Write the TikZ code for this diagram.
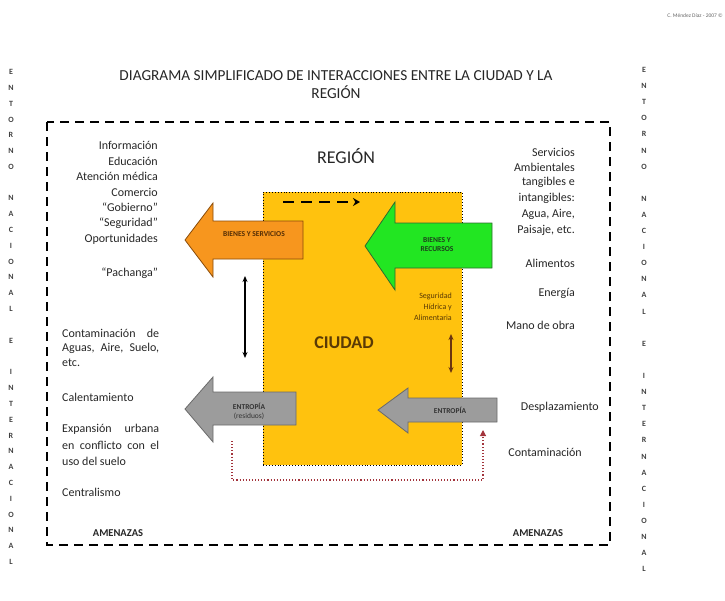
\documentclass[tikz,border=0pt]{standalone}
\usepackage{fontspec}
\setmainfont{Carlito}
\usetikzlibrary{arrows.meta}
\definecolor{cityyellow}{HTML}{FFC20E}
\definecolor{orangearr}{HTML}{F7961E}
\definecolor{orangeline}{HTML}{8A4B08}
\definecolor{greenarr}{HTML}{22E622}
\definecolor{greenline}{HTML}{2F6B2F}
\definecolor{grayarr}{HTML}{9C9C9C}
\definecolor{grayline}{HTML}{6A6A6A}
\definecolor{dotred}{HTML}{A3343C}
\definecolor{brownarr}{HTML}{6B3510}
\definecolor{citytext}{HTML}{5A3A05}
\begin{document}
\begin{tikzpicture}[x=1pt,y=-1pt,
  txt/.style={font=\fontsize{12}{14}\selectfont, inner sep=0pt, text=black!85},
  vlet/.style={font=\fontsize{8}{9}\selectfont\bfseries, inner sep=0pt, text=black!75},
  arrlbl/.style={font=\fontsize{7.5}{9}\selectfont\bfseries, inner sep=0pt, align=center},
  blockarrow/.style={line width=0.8pt},
  dashbox/.style={line width=1.8pt, dash pattern=on 9pt off 6pt},
  dbl/.style={{Stealth[length=6pt,width=5pt]}-{Stealth[length=6pt,width=5pt]}, line width=1.3pt},
]
\useasboundingbox (0,0) rectangle (725,600);

% credit
\node[anchor=east, inner sep=0pt, font=\fontsize{5.5}{6}\selectfont, text=black!60] (credit) at (723,16) {C. Méndez Díaz - 2007 ©};

% title
\node[inner sep=0pt, font=\fontsize{15.3}{17}\selectfont, text=black!85] (title1) at (336,76) {DIAGRAMA SIMPLIFICADO DE INTERACCIONES ENTRE LA CIUDAD Y LA};
\node[inner sep=0pt, font=\fontsize{15.3}{17}\selectfont, text=black!85] (title2) at (336,92) {REGIÓN};

% vertical letters
\foreach \c [count=\i from 0] in {E,N,T,O,R,N,O,{},N,A,C,I,O,N,A,L,{},E,{},I,N,T,E,R,N,A,C,I,O,N,A,L}
  \node[vlet] (vl\i) at (11,{72+\i*15.8}) {\c};
\foreach \c [count=\i from 0] in {E,N,T,O,R,N,O,{},N,A,C,I,O,N,A,L,{},E,{},I,N,T,E,R,N,A,C,I,O,N,A,L}
  \node[vlet] (vr\i) at (644,{70+\i*16.1}) {\c};

% region frame
\draw[dashbox] (47,122) rectangle (610,545);
\node[inner sep=0pt, font=\fontsize{18}{20}\selectfont, text=black!85] (region) at (346,156) {REGIÓN};

% city
\node[draw, dotted, line width=0.9pt, fill=cityyellow, minimum width=199pt, minimum height=273pt, inner sep=0pt] (city) at (362.5,328.5) {};
\node[inner sep=0pt, font=\fontsize{18}{20}\selectfont\bfseries, text=citytext] (ciudad) at (344,343) {CIUDAD};
\node[inner sep=0pt, font=\fontsize{8}{11}\selectfont, text=citytext, align=right, anchor=north east] (segur) at (452,293) {Seguridad\\Hídrica y\\Alimentaria};

% dashed arrow inside city
\coordinate (da1) at (283,202);
\coordinate (da2) at (360,202);
\draw[line width=2pt, dash pattern=on 11pt off 7pt, -{Stealth[length=7pt,width=8pt]}] (da1) -- (da2);

% orange arrow
\draw[blockarrow, draw=orangeline, fill=orangearr] (185,240) -- (213,203) -- (213,221) -- (303,221) -- (303,259) -- (213,259) -- (213,277) -- cycle;
\node[arrlbl, text=orangeline!60!black] (bys) at (254,234) {BIENES Y SERVICIOS};

% green arrow
\draw[blockarrow, draw=greenline, fill=greenarr] (365,246) -- (395,202) -- (395,223) -- (492,223) -- (492,268) -- (395,268) -- (395,290) -- cycle;
\node[arrlbl, text=greenline!60!black] (byr) at (437,245) {BIENES Y\\RECURSOS};

% gray arrows
\draw[blockarrow, draw=grayline, fill=grayarr] (185,409) -- (213,377) -- (213,392) -- (296,392) -- (296,425) -- (213,425) -- (213,442) -- cycle;
\node[arrlbl, text=black!80] (entl) at (249,411) {ENTROPÍA\\\mdseries(residuos)};
\draw[blockarrow, draw=grayline, fill=grayarr] (378,410) -- (408,388) -- (408,398) -- (497,398) -- (497,422) -- (408,422) -- (408,433) -- cycle;
\node[arrlbl, text=black!80] (entr) at (450,410) {ENTROPÍA};

% double arrows
\coordinate (b1) at (245,276);
\coordinate (b2) at (245,358);
\draw[dbl] (b1) -- (b2);
\coordinate (c1) at (451,334);
\coordinate (c2) at (451,373);
\draw[dbl, brownarr, line width=1.1pt] (c1) -- (c2);

% red dotted arrow
\coordinate (r1) at (232,441);
\coordinate (r3) at (483,480);
\coordinate (r2) at (483,430);
\draw[dotred, line width=1.1pt, dotted, -{Triangle[length=6pt,width=6pt]}] (r1) |- (r3) -- (r2);

% left texts (top)
\foreach \t/\y [count=\i] in {Información/145, Educación/161, {Atención médica}/176, Comercio/192, {“Gobierno”}/207, {“Seguridad”}/223, Oportunidades/239, {“Pachanga”}/273}
  \node[txt, anchor=east] (lt\i) at (158,\y) {\t};

% left texts (bottom)
\node[txt, anchor=west] (lb1) at (62,333) {\makebox[97pt][s]{Contaminación de}};
\node[txt, anchor=west] (lb2) at (62,348) {\makebox[97pt][s]{Aguas, Aire, Suelo,}};
\node[txt, anchor=west] (lb3) at (62,363) {etc.};
\node[txt, anchor=west] (lb4) at (62,397) {Calentamiento};
\node[txt, anchor=west] (lb5) at (62,429) {\makebox[97pt][s]{Expansión urbana}};
\node[txt, anchor=west] (lb6) at (62,445) {\makebox[97pt][s]{en conflicto con el}};
\node[txt, anchor=west] (lb7) at (62,461) {uso del suelo};
\node[txt, anchor=west] (lb8) at (62,492) {Centralismo};
\node[txt, font=\fontsize{10.5}{12}\selectfont\bfseries] (amen1) at (118,533) {AMENAZAS};

% right texts
\foreach \t/\y [count=\i] in {Servicios/152, Ambientales/167, {tangibles e}/182, {intangibles:}/198, {Agua, Aire,}/214, {Paisaje, etc.}/230, Alimentos/263, Energía/293, {Mano de obra}/325}
  \node[txt, anchor=east] (rt\i) at (575,\y) {\t};
\node[txt, anchor=east] (rt10) at (599,407) {Desplazamiento};
\node[txt, anchor=east] (rt11) at (582,452) {Contaminación};
\node[txt, font=\fontsize{10.5}{12}\selectfont\bfseries] (amen2) at (538,533) {AMENAZAS};

\end{tikzpicture}
\end{document}
